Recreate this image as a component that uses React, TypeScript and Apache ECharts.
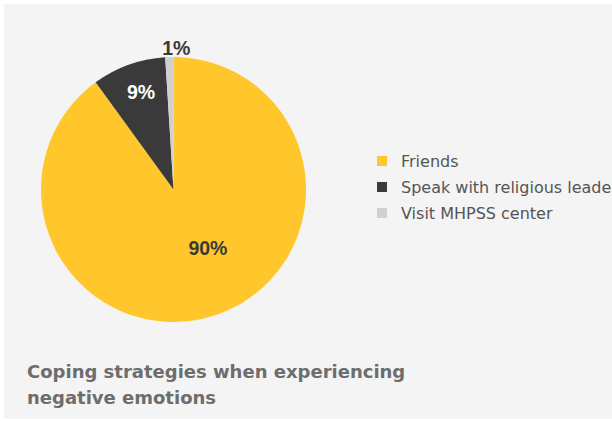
import React, { useEffect, useRef } from "react";
import * as echarts from "echarts";

const categories = ["Friends", "Speak with religious leader", "Visit MHPSS center"];
const values = [90, 9, 1];
const colors = ["#FFC72C", "#3A3A3A", "#D0D0D0"];
const labelColors = ["#3A3A3A", "#FFFFFF", "#3A3A3A"];
const titleText = "Coping strategies when experiencing\nnegative emotions";

// label nudges relative to the default inside anchor (layout, not data)
const labelNudge: [number, number][] = [
  [13, -7],
  [-9, -32],
  [5, -72],
];

export default function App() {
  const ref = useRef<HTMLDivElement>(null);
  useEffect(() => {
    if (!ref.current) return;
    const chart = echarts.init(ref.current, null, { renderer: "svg" });
    const font = "'Liberation Sans', Arial, Helvetica, sans-serif";
    const wide = "'DejaVu Sans', sans-serif";
    chart.setOption({
      animation: false,
      backgroundColor: "#FFFFFF",
      graphic: [
        {
          type: "rect",
          z: -10,
          silent: true,
          shape: { x: 4, y: 4, width: 612, height: 415 },
          style: { fill: "#F4F4F4" },
        },
      ],
      title: {
        text: titleText,
        left: 27,
        top: 358,
        padding: 0,
        textStyle: {
          fontFamily: wide,
          fontSize: 18,
          fontWeight: "bold",
          color: "#6D6D6D",
          lineHeight: 26,
        },
      },
      legend: {
        orient: "vertical",
        left: 377,
        top: 153,
        padding: 0,
        icon: "rect",
        itemWidth: 10,
        itemHeight: 10,
        itemGap: 10,
        selectedMode: false,
        data: categories,
        textStyle: {
          fontFamily: wide,
          fontSize: 16,
          lineHeight: 16,
          color: "#555555",
          padding: [0, 0, 0, 9],
        },
      },
      series: [
        {
          type: "pie",
          center: [173.5, 189.5],
          radius: [0, 132.5],
          startAngle: 90,
          clockwise: true,
          avoidLabelOverlap: false,
          labelLine: { show: false },
          itemStyle: { borderWidth: 0 },
          emphasis: { disabled: true },
          label: {
            show: true,
            position: "inside",
            formatter: "{d}%",
            fontFamily: font,
            fontSize: 19.5,
            fontWeight: "bold",
          },
          labelLayout: (params: any) => {
            const n = labelNudge[params.dataIndex] || [0, 0];
            return { dx: n[0], dy: n[1] };
          },
          data: categories.map((name, i) => ({
            name,
            value: values[i],
            itemStyle: { color: colors[i] },
            label: { color: labelColors[i] },
          })),
        },
      ],
    });
    return () => chart.dispose();
  }, []);
  return (
    <div
      ref={ref}
      style={{ position: "fixed", left: 0, top: 0, width: 612, height: 421 }}
    />
  );
}
